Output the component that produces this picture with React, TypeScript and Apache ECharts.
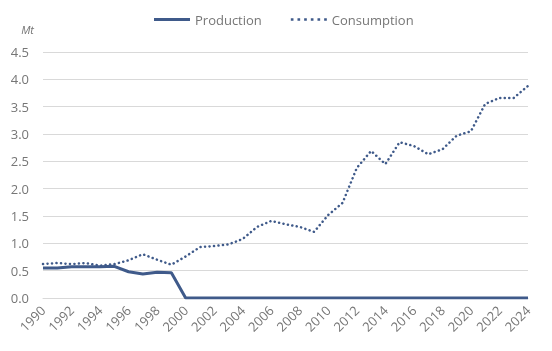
import React, { useEffect, useRef } from "react";
import * as echarts from "echarts";

const years = [
  "1990","1991","1992","1993","1994","1995","1996","1997","1998","1999",
  "2000","2001","2002","2003","2004","2005","2006","2007","2008","2009",
  "2010","2011","2012","2013","2014","2015","2016","2017","2018","2019",
  "2020","2021","2022","2023","2024",
];
const production = [
  0.55, 0.55, 0.57, 0.57, 0.57, 0.58, 0.48, 0.44, 0.47, 0.46,
  0, 0, 0, 0, 0, 0, 0, 0, 0, 0,
  0, 0, 0, 0, 0, 0, 0, 0, 0, 0,
  0, 0, 0, 0, 0,
];
const consumption = [
  0.62, 0.64, 0.62, 0.64, 0.59, 0.62, 0.69, 0.80, 0.70, 0.61,
  0.76, 0.93, 0.95, 0.98, 1.08, 1.30, 1.41, 1.35, 1.30, 1.21,
  1.52, 1.74, 2.38, 2.69, 2.45, 2.85, 2.78, 2.63, 2.72, 2.97,
  3.05, 3.55, 3.66, 3.66, 3.88,
];

const COLOR = "#3F5A8A";
const TEXT = "#767676";
const FONT = "Open Sans";

const DOTS =
  "path://M0,4h2v2h-2z M5,4h2v2h-2z M10,4h2v2h-2z M15,4h2v2h-2z M20,4h2v2h-2z M25,4h2v2h-2z";

export default function App() {
  const ref = useRef<HTMLDivElement>(null);
  useEffect(() => {
    if (!ref.current) return;
    const chart = echarts.init(ref.current, undefined, { renderer: "svg" });
    chart.setOption({
      animation: false,
      textStyle: { fontFamily: FONT },
      legend: {
        top: 8,
        left: 149,
        itemGap: 29,
        itemWidth: 36,
        itemHeight: 8,
        textStyle: { color: TEXT, fontSize: 13, fontFamily: FONT },
        data: [
          { name: "Production", icon: "path://M0,3L36,3L36,6L0,6Z", itemStyle: { color: COLOR } },
          { name: "Consumption", icon: DOTS, itemStyle: { color: COLOR } },
        ],
      },
      grid: { left: 43, right: 24, top: 52, bottom: 53 },
      xAxis: {
        type: "category",
        data: years,
        boundaryGap: false,
        axisLine: { show: true, lineStyle: { color: "#d9d9d9" } },
        axisTick: { show: false },
        axisLabel: {
          interval: 1,
          rotate: 45,
          color: TEXT,
          fontSize: 13,
          fontFamily: FONT,
          margin: 10,
        },
      },
      yAxis: {
        type: "value",
        min: 0,
        max: 4.5,
        interval: 0.5,
        name: "Mt",
        nameLocation: "end",
        nameGap: 17,
        nameTextStyle: {
          color: TEXT,
          fontStyle: "italic",
          fontSize: 11,
          fontFamily: FONT,
          align: "right",
          padding: [0, 9, 0, 0],
        },
        axisLine: { show: false },
        axisTick: { show: false },
        splitLine: { lineStyle: { color: "#d9d9d9", width: 1 } },
        axisLabel: {
          color: TEXT,
          fontSize: 13,
          fontFamily: FONT,
          margin: 14,
          formatter: (v: number) => v.toFixed(1),
        },
      },
      series: [
        {
          name: "Production",
          type: "line",
          data: production,
          symbol: "none",
          itemStyle: { color: COLOR },
          lineStyle: { color: COLOR, width: 3 },
          z: 3,
        },
        {
          name: "Consumption",
          type: "line",
          data: consumption,
          symbol: "none",
          itemStyle: { color: COLOR },
          lineStyle: { color: COLOR, width: 2.5, type: [0.1, 4.4], cap: "round" },
          z: 2,
        },
      ],
    });
    return () => chart.dispose();
  }, []);
  return (
    <div
      ref={ref}
      style={{ position: "fixed", left: 0, top: 0, width: 552, height: 351 }}
    />
  );
}
